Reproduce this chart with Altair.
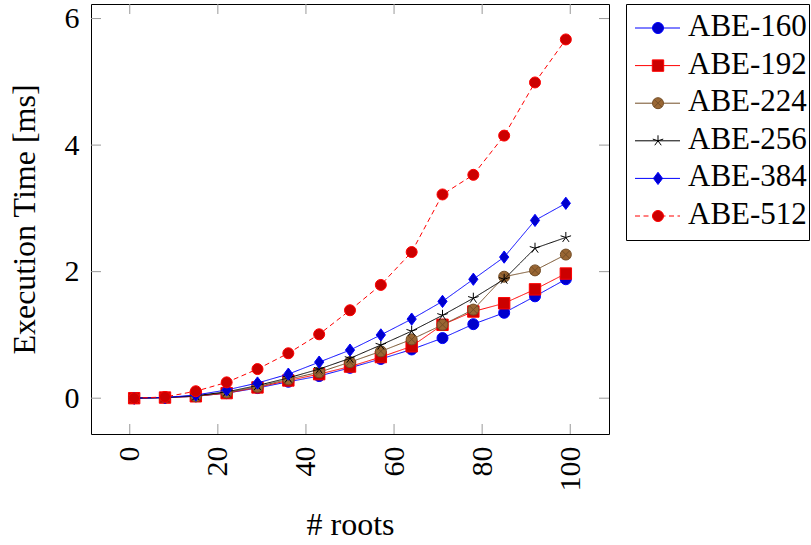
import altair as alt
import pandas as pd

# ---------------- data ----------------
roots = [1, 8, 15, 22, 29, 36, 43, 50, 57, 64, 71, 78, 85, 92, 99]
abe160 = [0, 0.01, 0.03, 0.08, 0.16, 0.26, 0.35, 0.48, 0.62, 0.77, 0.95, 1.17, 1.35, 1.61, 1.88]
abe192 = [0, 0.01, 0.03, 0.08, 0.17, 0.28, 0.38, 0.50, 0.65, 0.82, 1.16, 1.37, 1.50, 1.72, 1.97]
abe224 = [0, 0.01, 0.03, 0.09, 0.18, 0.30, 0.41, 0.57, 0.74, 0.93, 1.16, 1.40, 1.92, 2.02, 2.27]
abe256 = [0, 0.01, 0.04, 0.10, 0.20, 0.32, 0.46, 0.63, 0.84, 1.06, 1.31, 1.58, 1.88, 2.37, 2.54]
abe384 = [0, 0.01, 0.05, 0.13, 0.24, 0.38, 0.57, 0.76, 1.00, 1.25, 1.53, 1.88, 2.23, 2.81, 3.08]
abe512 = [0, 0.02, 0.11, 0.25, 0.46, 0.71, 1.01, 1.39, 1.79, 2.31, 3.22, 3.53, 4.15, 4.99, 5.67]

series_names = ["ABE-160", "ABE-192", "ABE-224", "ABE-256", "ABE-384", "ABE-512"]
series_values = [abe160, abe192, abe224, abe256, abe384, abe512]

x_ticks = [0, 20, 40, 60, 80, 100]
y_ticks = [0, 2, 4, 6]
x_title = "# roots"
y_title = "Execution Time [ms]"

# ---------------- styles ----------------
FONT = "Liberation Serif"
W, H = 518, 430
TICK = 10
DIAMOND = "M0,-1L0.75,0L0,1L-0.75,0Z"
STAR = ("M0,0L0,-1M0,0L0.951,-0.309M0,0L0.588,0.809"
        "M0,0L-0.588,0.809M0,0L-0.951,-0.309")
OCROSS = "M-0.7,-0.7L0.7,0.7M-0.7,0.7L0.7,-0.7"

styles = {
    "ABE-160": dict(line="#0000FF", dash=[1, 0], shape="circle", fill="#0000CC", stroke="#0000FF", size=121, filled=True),
    "ABE-192": dict(line="#FF0000", dash=[1, 0], shape="square", fill="#CC0000", stroke="#FF0000", size=130, filled=True),
    "ABE-224": dict(line="#734D26", dash=[1, 0], shape="circle", fill="#996633", stroke="#734D26", size=121, filled=True, cross=True),
    "ABE-256": dict(line="#000000", dash=[1, 0], shape=STAR, fill="none", stroke="#000000", size=121, filled=False),
    "ABE-384": dict(line="#0000FF", dash=[1, 0], shape=DIAMOND, fill="#0000CC", stroke="#0000FF", size=150, filled=True),
    "ABE-512": dict(line="#FF0000", dash=[5, 3.5], shape="circle", fill="#CC0000", stroke="#FF0000", size=121, filled=True),
}

rows = []
for name, vals in zip(series_names, series_values):
    for r, v in zip(roots, vals):
        rows.append({"series": name, "roots": r, "time": v})
df = pd.DataFrame(rows)

xscale = alt.Scale(domain=[-8.8, 108.8], nice=False, zero=False)
yscale = alt.Scale(domain=[-0.566, 6.23], nice=False, zero=False)

x_axis = alt.Axis(values=x_ticks, title=x_title, labelAngle=270, ticks=False, domain=False,
                  grid=False, labelFont=FONT, labelFontSize=30, titleFont=FONT, titleFontSize=32,
                  titleFontWeight="normal", labelPadding=12, titlePadding=18,
                  labelColor="black", titleColor="black")
y_axis = alt.Axis(values=y_ticks, title=y_title, ticks=False, domain=False, grid=False,
                  labelFont=FONT, labelFontSize=30, titleFont=FONT, titleFontSize=32,
                  titleFontWeight="normal", labelPadding=12, titlePadding=23,
                  labelColor="black", titleColor="black")

X = alt.X("roots:Q", scale=xscale, axis=x_axis)
Y = alt.Y("time:Q", scale=yscale, axis=y_axis)

layers = []
for name in series_names:
    s = styles[name]
    base = alt.Chart(df).transform_filter(alt.datum.series == name)
    layers.append(base.mark_line(color=s["line"], strokeWidth=1, strokeDash=s["dash"]).encode(x=X, y=Y))
    layers.append(base.mark_point(shape=s["shape"], filled=s["filled"], fill=s["fill"], stroke=s["stroke"],
                                  strokeWidth=1, size=s["size"], opacity=1).encode(x=X, y=Y))
    if s.get("cross"):
        layers.append(base.mark_point(shape=OCROSS, filled=False, stroke=s["stroke"], strokeWidth=1,
                                      size=s["size"], opacity=1).encode(x=X, y=Y))

# inner ticks on all four sides
xt = pd.DataFrame({"roots": x_ticks})
yt = pd.DataFrame({"time": y_ticks})
tick_col = "#999999"
layers.append(alt.Chart(xt).mark_rule(color=tick_col, strokeWidth=1).encode(x=X, y=alt.value(H - TICK), y2=alt.value(H)))
layers.append(alt.Chart(xt).mark_rule(color=tick_col, strokeWidth=1).encode(x=X, y=alt.value(0), y2=alt.value(TICK)))
layers.append(alt.Chart(yt).mark_rule(color=tick_col, strokeWidth=1).encode(y=Y, x=alt.value(0), x2=alt.value(TICK)))
layers.append(alt.Chart(yt).mark_rule(color=tick_col, strokeWidth=1).encode(y=Y, x=alt.value(W - TICK), x2=alt.value(W)))

main = alt.layer(*layers).properties(width=W, height=H)

# ---------------- legend panel ----------------
leg_df = pd.DataFrame({"series": series_names})
YL = alt.Y("series:N", scale=alt.Scale(type="point", domain=series_names, range=[24, 212], padding=0), axis=None)
leg_layers = []
for name in series_names:
    s = styles[name]
    b = alt.Chart(leg_df).transform_filter(alt.datum.series == name)
    leg_layers.append(b.mark_rule(color=s["line"], strokeWidth=1, strokeDash=s["dash"]).encode(
        y=YL, x=alt.value(9), x2=alt.value(54)))
    leg_layers.append(b.mark_point(shape=s["shape"], filled=s["filled"], fill=s["fill"], stroke=s["stroke"],
                                   strokeWidth=1, size=s["size"], opacity=1).encode(y=YL, x=alt.value(32)))
    if s.get("cross"):
        leg_layers.append(b.mark_point(shape=OCROSS, filled=False, stroke=s["stroke"], strokeWidth=1,
                                       size=s["size"], opacity=1).encode(y=YL, x=alt.value(32)))
leg_layers.append(alt.Chart(leg_df).mark_text(align="left", baseline="middle", font=FONT, fontSize=31,
                                              color="black", dy=-1).encode(
    y=YL, x=alt.value(62), text="series:N"))
legend = alt.layer(*leg_layers).properties(width=183, height=236)

chart = alt.hconcat(main, legend, spacing=15).configure_view(
    stroke="black", strokeWidth=1
).properties(
    padding={"left": 7, "top": 3, "right": 0, "bottom": 0},
    background="white",
)

chart.save("out.html", embed_options={"renderer": "svg", "actions": False})
